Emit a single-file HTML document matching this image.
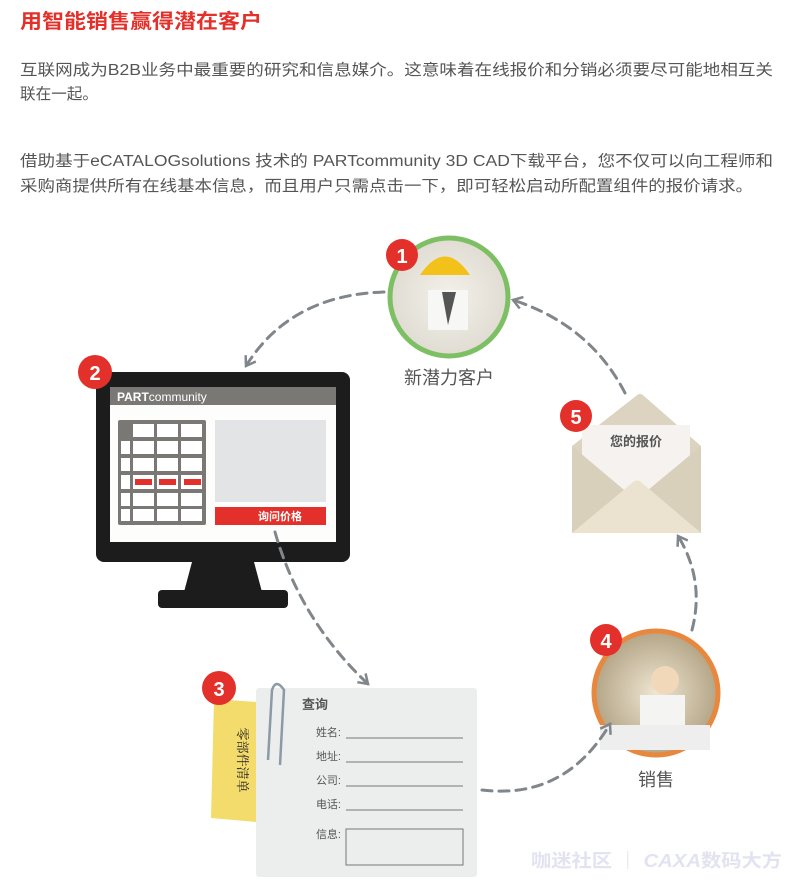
<!DOCTYPE html>
<html><head><meta charset="utf-8"><style>
body{margin:0;background:#fff;width:793px;height:894px;overflow:hidden;font-family:"Liberation Sans","Noto Sans CJK SC",sans-serif}
svg{position:absolute;left:0;top:0}
</style></head><body>
<svg width="793" height="894" viewBox="0 0 793 894" xmlns="http://www.w3.org/2000/svg" font-family="Liberation Sans, Noto Sans CJK SC, sans-serif">
<defs>
<radialGradient id="p1" cx="0.5" cy="0.5" r="0.6"><stop offset="0" stop-color="#f3f1ea"/><stop offset="1" stop-color="#dcd8ce"/></radialGradient>
<radialGradient id="p4" cx="0.5" cy="0.5" r="0.6"><stop offset="0" stop-color="#efe6d2"/><stop offset="1" stop-color="#a89878"/></radialGradient>
<marker id="ar" markerWidth="14" markerHeight="14" refX="10" refY="7" orient="auto" markerUnits="userSpaceOnUse"><path d="M1,1 L10,7 L1,13" fill="none" stroke="#80868a" stroke-width="2.5"/></marker>
</defs>
<text x="20" y="28" font-size="20" font-weight="bold" fill="#e3302a" textLength="242" lengthAdjust="spacingAndGlyphs">用智能销售赢得潜在客户</text>
<g font-size="15.5" fill="#555">
<text x="20" y="75" textLength="753" lengthAdjust="spacingAndGlyphs">互联网成为B2B业务中最重要的研究和信息媒介。这意味着在线报价和分销必须要尽可能地相互关</text>
<text x="20" y="99" textLength="78" lengthAdjust="spacingAndGlyphs">联在一起。</text>
<text x="20" y="166" textLength="753" lengthAdjust="spacingAndGlyphs">借助基于eCATALOGsolutions 技术的 PARTcommunity 3D CAD下载平台，您不仅可以向工程师和</text>
<text x="20" y="191" textLength="733" lengthAdjust="spacingAndGlyphs">采购商提供所有在线基本信息，而且用户只需点击一下，即可轻松启动所配置组件的报价请求。</text>
</g>
<!-- circle 1 -->
<circle cx="449" cy="297" r="59" fill="url(#p1)" stroke="#7dbf63" stroke-width="5"/>
<path d="M420,275 Q445,238 470,275 Z" fill="#f2c21a"/>
<rect x="428" y="290" width="40" height="40" fill="#f7f7f5"/>
<path d="M442,292 L448,325 L456,292Z" fill="#555"/>
<circle cx="402" cy="255" r="16" fill="#e3302a"/><text x="402" y="263" font-size="20" font-weight="bold" fill="#fff" text-anchor="middle">1</text>
<text x="449" y="384" font-size="18" fill="#555" text-anchor="middle">新潜力客户</text>
<!-- monitor -->
<rect x="96" y="372" width="254" height="190" rx="8" fill="#1c1c1c"/>
<rect x="110" y="387" width="226" height="155" fill="#fdfdfc"/>
<rect x="110" y="387" width="226" height="18" fill="#7a7874"/>
<text x="117" y="401" font-size="12" fill="#fff"><tspan font-weight="bold">PART</tspan>community</text>
<path d="M192,562 L254,562 L262,592 L184,592Z" fill="#1c1c1c"/>
<rect x="158" y="590" width="130" height="18" rx="4" fill="#1c1c1c"/>
<rect x="118" y="420" width="88" height="105" rx="2" fill="#7a7874"/>
<g fill="#fff">
<rect x="133" y="424" width="21" height="13"/><rect x="157" y="424" width="21" height="13"/><rect x="181" y="424" width="21" height="13"/>
<rect x="121" y="441" width="9" height="13"/><rect x="133" y="441" width="21" height="13"/><rect x="157" y="441" width="21" height="13"/><rect x="181" y="441" width="21" height="13"/>
<rect x="121" y="458" width="9" height="13"/><rect x="133" y="458" width="21" height="13"/><rect x="157" y="458" width="21" height="13"/><rect x="181" y="458" width="21" height="13"/>
<rect x="121" y="475" width="9" height="14"/><rect x="133" y="475" width="21" height="14"/><rect x="157" y="475" width="21" height="14"/><rect x="181" y="475" width="21" height="14"/>
<rect x="121" y="493" width="9" height="13"/><rect x="133" y="493" width="21" height="13"/><rect x="157" y="493" width="21" height="13"/><rect x="181" y="493" width="21" height="13"/>
<rect x="121" y="509" width="9" height="12"/><rect x="133" y="509" width="21" height="12"/><rect x="157" y="509" width="21" height="12"/><rect x="181" y="509" width="21" height="12"/>
</g>
<g fill="#e3302a"><rect x="135" y="479" width="17" height="6"/><rect x="159" y="479" width="17" height="6"/><rect x="184" y="479" width="17" height="6"/></g>
<rect x="215" y="420" width="111" height="82" fill="#e3e4e5"/>
<rect x="215" y="507" width="111" height="18" fill="#e3302a"/>
<text x="280" y="520" font-size="11" font-weight="bold" fill="#fff" text-anchor="middle">询问价格</text>
<circle cx="95" cy="372" r="17" fill="#e3302a"/><text x="95" y="380" font-size="20" font-weight="bold" fill="#fff" text-anchor="middle">2</text>
<!-- form -->
<path d="M214,699 L256,702 L256,822 L211,818Z" fill="#f4dc6c"/>
<text x="238" y="760" font-size="13" fill="#222" text-anchor="middle" transform="rotate(90 238 760)" font-family="Noto Serif CJK SC, serif">零部件清单</text>
<rect x="256" y="688" width="221" height="189" rx="3" fill="#eceeee"/>
<path d="M268,760 L272,690 Q276,678 284,690 L280,765" fill="none" stroke="#8c9aa6" stroke-width="2.5"/>
<circle cx="219" cy="688" r="17" fill="#e3302a"/><text x="219" y="696" font-size="20" font-weight="bold" fill="#fff" text-anchor="middle">3</text>
<text x="302" y="709" font-size="13" font-weight="bold" fill="#555">查询</text>
<g font-size="11" fill="#555" text-anchor="end">
<text x="341" y="736">姓名:</text><text x="341" y="760">地址:</text><text x="341" y="784">公司:</text><text x="341" y="808">电话:</text><text x="341" y="838">信息:</text>
</g>
<g stroke="#777" stroke-width="1"><line x1="346" y1="738" x2="463" y2="738"/><line x1="346" y1="762" x2="463" y2="762"/><line x1="346" y1="786" x2="463" y2="786"/><line x1="346" y1="810" x2="463" y2="810"/></g>
<rect x="346" y="829" width="117" height="36" fill="none" stroke="#777"/>
<!-- circle 4 -->
<circle cx="656" cy="693" r="62" fill="url(#p4)" stroke="#e8873e" stroke-width="5"/>
<circle cx="665" cy="680" r="14" fill="#f0d8b8"/>
<rect x="640" y="695" width="45" height="30" fill="#f4f4f2"/>
<rect x="600" y="725" width="110" height="25" fill="#eeeeee"/>
<circle cx="606" cy="640" r="16" fill="#e3302a"/><text x="606" y="648" font-size="20" font-weight="bold" fill="#fff" text-anchor="middle">4</text>
<text x="656" y="786" font-size="18" fill="#555" text-anchor="middle">销售</text>
<!-- envelope -->
<path d="M572,446 L636,396 Q640,392 644,396 L701,446 L701,533 L572,533Z" fill="#dcd3c0"/>
<rect x="582" y="425" width="108" height="70" fill="#f6f2ef"/>
<text x="636" y="446" font-size="13" font-weight="bold" fill="#555" text-anchor="middle">您的报价</text>
<path d="M572,446 L636,500 L701,446 L701,533 L572,533Z" fill="#d9d0bc"/>
<path d="M572,533 L632,483 Q637,478 642,483 L701,533Z" fill="#ebe3cf"/>
<circle cx="576" cy="416" r="16" fill="#e3302a"/><text x="576" y="424" font-size="20" font-weight="bold" fill="#fff" text-anchor="middle">5</text>
<!-- dashed arrows -->
<g fill="none" stroke="#80868a" stroke-width="3" stroke-dasharray="10,7" stroke-linecap="round">
<path d="M384,292 Q290,295 246,366" marker-end="url(#ar)"/>
<path d="M275,532 Q300,620 368,684" marker-end="url(#ar)"/>
<path d="M482,790 Q565,800 610,724" marker-end="url(#ar)"/>
<path d="M692,630 Q705,580 678,536" marker-end="url(#ar)"/>
<path d="M625,393 Q590,325 513,300" marker-end="url(#ar)"/>
</g>
<text x="531" y="867" font-size="18" font-weight="bold" fill="#e2e3f0" textLength="251" lengthAdjust="spacingAndGlyphs">咖迷社区 ｜ <tspan font-style="italic">CAXA</tspan>数码大方</text>
</svg>
</body></html>
